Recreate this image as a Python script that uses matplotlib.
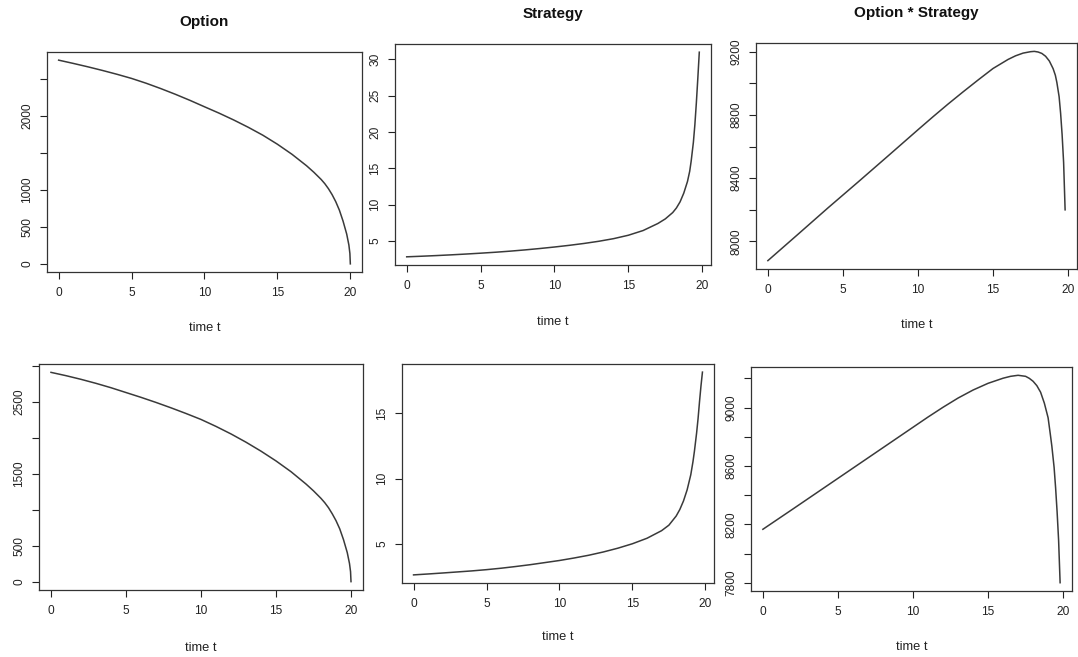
import matplotlib
matplotlib.use("Agg")
import matplotlib.pyplot as plt

# Option (top and bottom share time points)
t_opt = [0, 1, 2, 3, 4, 5, 6, 7, 8, 9, 10, 11, 12, 13, 14, 15, 16, 17, 17.5, 18,
         18.25, 18.5, 18.75, 19, 19.25, 19.5, 19.75, 19.9, 19.97, 20]
option_top = [2752, 2708, 2662, 2613, 2561, 2505, 2440, 2368, 2291, 2209, 2122, 2036, 1944,
              1845, 1738, 1616, 1480, 1325, 1237, 1140, 1083, 1015, 935, 840, 725, 578, 403,
              255, 140, 0]
option_bot = [2916, 2870, 2819, 2763, 2702, 2635, 2568, 2497, 2422, 2343, 2260, 2163, 2058,
              1943, 1818, 1682, 1532, 1360, 1265, 1160, 1100, 1030, 945, 850, 735, 585, 405,
              252, 138, 0]

# Strategy
t_str = [0, 1, 2, 3, 4, 5, 6, 7, 8, 9, 10, 11, 12, 13, 14, 15, 16, 17, 17.5, 18, 18.25,
         18.5, 18.75, 19, 19.15, 19.25, 19.4, 19.5, 19.6, 19.7, 19.8]
strategy_top = [2.83, 2.91, 3.0, 3.1, 3.21, 3.33, 3.46, 3.61, 3.78, 3.97, 4.18, 4.41, 4.67,
                4.97, 5.33, 5.80, 6.45, 7.42, 8.05, 8.92, 9.55, 10.4, 11.6, 13.2, 14.6, 16.0,
                18.6, 21.0, 24.0, 27.4, 31.0]
strategy_bot = [2.65, 2.72, 2.795, 2.875, 2.955, 3.05, 3.16, 3.29, 3.43, 3.59, 3.75, 3.94,
                4.15, 4.40, 4.69, 5.03, 5.45, 6.03, 6.45, 7.15, 7.65, 8.3, 9.15, 10.3, 11.3,
                12.1, 13.5, 14.6, 15.9, 17.1, 18.15]

# Option * Strategy
t_prod = [0, 2, 4, 6, 8, 10, 11, 12, 13, 14, 15, 16, 16.5, 17, 17.5, 17.75, 18, 18.25, 18.5,
          18.75, 19, 19.15, 19.25, 19.4, 19.5, 19.6, 19.7, 19.8]
product_top = [7879, 8045, 8212, 8375, 8540, 8706, 8788, 8868, 8945, 9020, 9093, 9150, 9173,
               9190, 9199, 9201, 9197, 9188, 9170, 9140, 9092, 9050, 9005, 8915, 8810, 8675,
               8500, 8200]
product_bot = [8166, 8305, 8445, 8585, 8725, 8865, 8935, 9002, 9065, 9120, 9166, 9201, 9214,
               9221, 9214, 9200, 9180, 9150, 9105, 9030, 8930, 8815, 8735, 8590, 8450, 8285,
               8090, 7800]

x_ticks = [0, 5, 10, 15, 20]
titles = ['Option', 'Strategy', 'Option * Strategy']
xlab = 'time t'

y1_ticks = [0, 500, 1000, 1500, 2000, 2500]
y1_labels = ['0', '500', '1000', '', '2000', '']
y2_ticks = [5, 10, 15, 20, 25, 30]
y2_labels = ['5', '10', '15', '20', '25', '30']
y3_ticks = [8000, 8200, 8400, 8600, 8800, 9000, 9200]
y3_labels = ['8000', '', '8400', '', '8800', '', '9200']
y4_ticks = [0, 500, 1000, 1500, 2000, 2500, 3000]
y4_labels = ['0', '500', '', '1500', '', '2500', '']
y5_ticks = [5, 10, 15]
y5_labels = ['5', '10', '15']
y6_ticks = [7800, 8000, 8200, 8400, 8600, 8800, 9000, 9200]
y6_labels = ['7800', '', '8200', '', '8600', '', '9000', '']

plt.rcParams['font.family'] = ['Liberation Sans', 'DejaVu Sans']

W, H = 1078, 657
fig = plt.figure(figsize=(W / 100, H / 100), dpi=100)

def add_panel(box, t, y, yt, ytl, title=None, xlab_y=None):
	x0, y0, x1, y1 = box
	ax = fig.add_axes([x0 / W, 1 - y1 / H, (x1 - x0) / W, (y1 - y0) / H])
	ax.plot(t, y, color='#3a3a3a', lw=1.1)
	ax.margins(x=0.04, y=0.04)
	ax.set_xticks(x_ticks)
	ax.set_xticklabels([str(v) for v in x_ticks])
	ax.set_yticks(yt)
	ax.set_yticklabels(ytl, rotation=90, va='center')
	ax.tick_params(direction='out', length=5, width=0.8, labelsize=8.6, colors='#222222')
	ax.tick_params(axis='x', pad=6)
	ax.tick_params(axis='y', pad=5)
	for s in ax.spines.values():
		s.set_color('#333333')
		s.set_linewidth(0.9)
	h = y1 - y0
	ax.text(0.5, -(xlab_y - y1) / h, xlab, transform=ax.transAxes, ha='center', va='center',
		fontsize=9.3, color='#222222')
	if title:
		ax.text(0.5, 1 + 30 / h, title, transform=ax.transAxes, ha='center', va='center',
			fontsize=11, fontweight='bold', color='#111111')
	return ax

add_panel((47, 52, 362, 272), t_opt, option_top, y1_ticks, y1_labels, titles[0], 328)
add_panel((395, 44, 711, 265), t_str, strategy_top, y2_ticks, y2_labels, titles[1], 322)
add_panel((756, 43, 1077, 269), t_prod, product_top, y3_ticks, y3_labels, titles[2], 325)
add_panel((39, 364, 363, 590), t_opt, option_bot, y4_ticks, y4_labels, None, 648)
add_panel((402, 364, 714, 583), t_str, strategy_bot, y5_ticks, y5_labels, None, 637)
add_panel((751, 367, 1072, 591), t_prod, product_bot, y6_ticks, y6_labels, None, 647)

plt.savefig('out.png', dpi=100)
print('Plot saved in out.png')
